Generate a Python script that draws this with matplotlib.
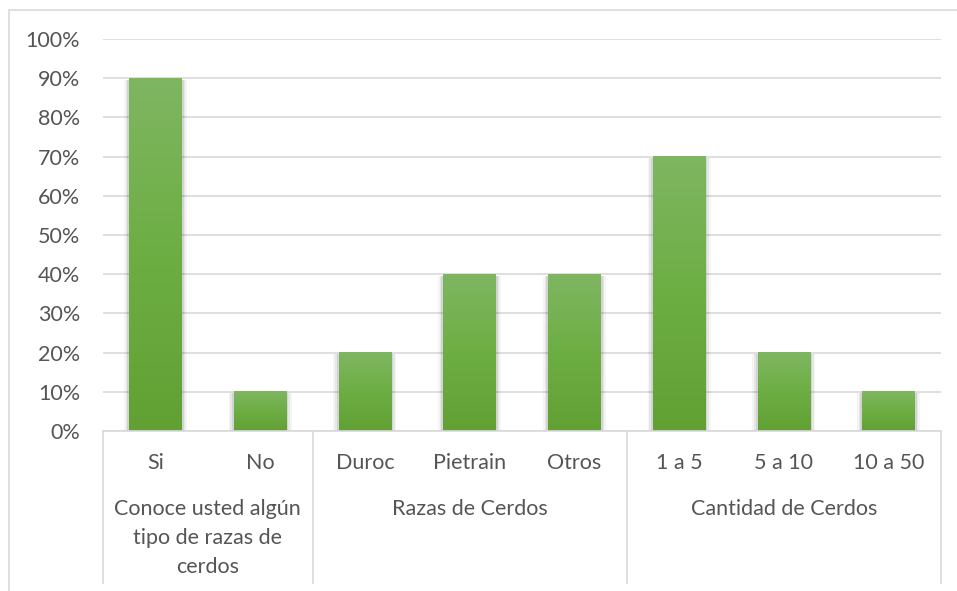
import numpy as np
import matplotlib.pyplot as plt
from matplotlib.patches import Rectangle
from matplotlib.colors import LinearSegmentedColormap
from matplotlib.ticker import PercentFormatter
from matplotlib.transforms import blended_transform_factory

categories = ['Si', 'No', 'Duroc', 'Pietrain', 'Otros', '1 a 5', '5 a 10', '10 a 50']
values = [0.90, 0.10, 0.20, 0.40, 0.40, 0.70, 0.20, 0.10]
groups = ['Conoce usted algún\ntipo de razas de\ncerdos', 'Razas de Cerdos', 'Cantidad de Cerdos']
group_sizes = [2, 3, 3]

text_color = '#555555'
grid_color = '#D9D9D9'
fs = 15.5
plt.rcParams['font.family'] = ['Lato', 'DejaVu Sans']

W, H = 957, 591
fig = plt.figure(figsize=(W / 100, H / 100), dpi=100)
ax = fig.add_axes([103 / W, 1 - 431 / H, 838 / W, 392 / H])

# outer chart border (clipped by the image on the right and bottom)
fig.patches.append(Rectangle((9 / W, -0.2), 2, 1.2 - 9.5 / H, transform=fig.transFigure,
                             fill=False, edgecolor=grid_color, lw=1.2))

green = LinearSegmentedColormap.from_list('g', ['#61A033', '#6DAE43', '#7FB662'])
grad = np.linspace(0, 1, 256).reshape(-1, 1)
x = np.arange(len(categories))
bw = 0.5
for xi, v in zip(x, values):
    # soft shadow
    for k, a in zip([0.05, 0.035, 0.02], [0.04, 0.06, 0.08]):
        ax.add_patch(Rectangle((xi - bw / 2 - k, 0), bw + 2 * k, v - 0.004,
                               color='black', alpha=a, lw=0, zorder=2))
    ax.imshow(grad, extent=(xi - bw / 2, xi + bw / 2, 0, v), origin='lower',
              cmap=green, aspect='auto', zorder=3, interpolation='bilinear')

ax.set_xlim(-0.5, len(categories) - 0.5)
ax.set_ylim(0, 1)
ax.yaxis.set_major_formatter(PercentFormatter(1.0, decimals=0))
ax.set_yticks(np.arange(0, 1.01, 0.1))
ax.set_xticks([])
ax.tick_params(axis='y', length=0, pad=16.5, labelsize=fs, labelcolor=text_color)
ax.grid(axis='y', color=grid_color, lw=1.2, zorder=0)
ax.set_axisbelow(True)
for s in ['top', 'right', 'left']:
    ax.spines[s].set_visible(False)
ax.spines['bottom'].set_color(grid_color)
ax.spines['bottom'].set_linewidth(1.2)
ax.spines['bottom'].set_zorder(4)

tr = blended_transform_factory(ax.transData, ax.transAxes)
for xi, c in zip(x, categories):
    ax.text(xi, -32 / 392, c, transform=tr, ha='center', va='center',
            fontsize=fs, color=text_color)

bounds = np.concatenate([[0], np.cumsum(group_sizes)]) - 0.5
for b in bounds:
    ax.plot([b, b], [0, -152 / 392], transform=tr, color=grid_color, lw=1.2, clip_on=False)
for g, lo, hi in zip(groups, bounds[:-1], bounds[1:]):
    ax.text((lo + hi) / 2, -68 / 392, g, transform=tr, ha='center', va='top',
            fontsize=fs, color=text_color, linespacing=1.55)

fig.savefig('out.png', dpi=100)
